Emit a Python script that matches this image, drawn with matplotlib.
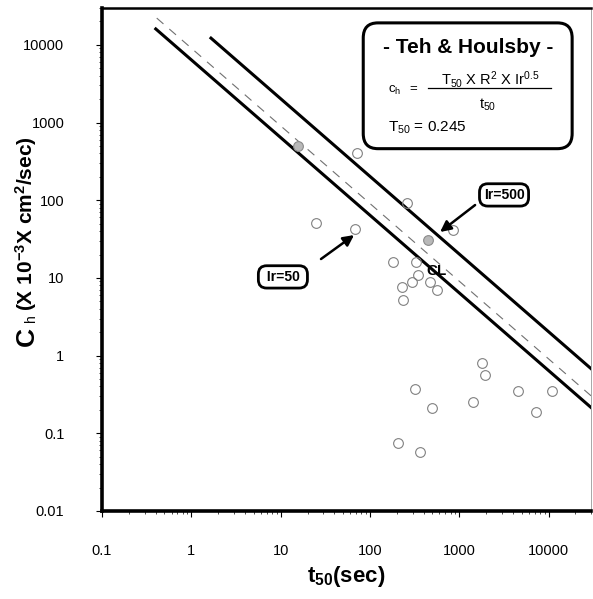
import matplotlib
matplotlib.use("Agg")
import matplotlib.pyplot as plt
import numpy as np
from matplotlib.patches import FancyBboxPatch

plt.rcParams['font.family'] = ['Liberation Sans', 'DejaVu Sans']
plt.rcParams['mathtext.default'] = 'regular'

# Teh & Houlsby parameters
T50 = 0.245
R_SQ = 3.70          # cm^2
ir_lines = [50, 100, 500]   # Ir=50, CL, Ir=500

# extent of each theoretical line along t50 (sec)
t50_start = [0.40, 0.41, 1.66]
t50_end = 30000

# measured dissipation results
t50_obs = [72, 260, 850, 25, 68, 181, 330, 345, 229, 296, 471, 560, 234,
           1800, 1950, 320, 495, 1430, 4500, 11000, 7200, 205, 365]
ch_obs = [400, 92, 41, 51, 43, 16, 16, 10.9, 7.6, 8.85, 8.85, 7.0, 5.2,
          0.8, 0.56, 0.37, 0.21, 0.25, 0.35, 0.35, 0.19, 0.075, 0.057]
t50_flag = [15.7, 450]
ch_flag = [500, 31]

xticks = [0.1, 1, 10, 100, 1000, 10000]
xtick_labels = ['0.1', '1', '10', '100', '1000', '10000']
yticks = [0.01, 0.1, 1, 10, 100, 1000, 10000]
ytick_labels = ['0.01', '0.1', '1', '10', '100', '1000', '10000']


def ch_theory(t50, ir):
    # result in 10^-3 cm^2/sec
    return 1000 * T50 * R_SQ * ir ** 0.5 / t50


fig = plt.figure(figsize=(5.93, 5.99), dpi=100)
ax = fig.add_axes([0.172, 0.147, 0.825, 0.840])
ax.set_xscale('log')
ax.set_yscale('log')
ax.set_xlim(0.1, 30000)
ax.set_ylim(0.01, 30000)

styles = [dict(color='black', lw=2.2),
          dict(color='#707070', lw=0.8, dashes=(8, 7)),
          dict(color='black', lw=2.2)]
for ir, t0, st in zip(ir_lines, t50_start, styles):
    t = np.array([t0, t50_end])
    ax.plot(t, ch_theory(t, ir), **st)

ax.plot(t50_obs, ch_obs, 'o', ms=7, mfc='none', mec='#808080', mew=0.8)
ax.plot(t50_flag, ch_flag, 'o', ms=7, mfc='#b8b8b8', mec='#8a8a8a', mew=0.8)

ax.text(430, 12.3, 'CL', fontsize=11, fontweight='bold', va='center', ha='left')

# Ir labels with arrows
box = dict(boxstyle='round,pad=0.3,rounding_size=0.6', fc='white', ec='black', lw=2)
arrow = dict(arrowstyle='-|>', color='black', lw=1.8, mutation_scale=16, shrinkA=0, shrinkB=0)
ax.text(3170, 117, 'Ir=500', fontsize=10, fontweight='bold', ha='center', va='center', bbox=box)
ax.annotate('', xy=(610, 39), xytext=(1503, 86.7), arrowprops=arrow)
ax.text(10.6, 10.3, ' Ir=50 ', fontsize=10, fontweight='bold', ha='center', va='center', bbox=box)
ax.annotate('', xy=(66.4, 35.6), xytext=(28.3, 17.5), arrowprops=arrow)

# formula box
ax.add_patch(FancyBboxPatch((0.534, 0.720), 0.427, 0.250, transform=ax.transAxes,
                            boxstyle='round,pad=0,rounding_size=0.03',
                            fc='white', ec='black', lw=2.2, zorder=5))
ax.text(0.748, 0.922, '- Teh & Houlsby -', transform=ax.transAxes, fontsize=15,
        fontweight='bold', ha='center', va='center', zorder=6)
ax.text(0.599, 0.836, 'c$_h$', transform=ax.transAxes, fontsize=9.5, ha='center', va='center', zorder=6)
ax.text(0.636, 0.838, '=', transform=ax.transAxes, fontsize=9.5, ha='center', va='center', zorder=6)
ax.text(0.793, 0.857, 'T$_{50}$ X R$^2$ X Ir$^{0.5}$', transform=ax.transAxes, fontsize=10.5,
        ha='center', va='center', zorder=6)
ax.plot([0.667, 0.918], [0.840, 0.840], transform=ax.transAxes, color='black', lw=0.9, zorder=6)
ax.text(0.789, 0.808, 't$_{50}$', transform=ax.transAxes, fontsize=10.5, ha='center', va='center', zorder=6)
ax.text(0.585, 0.762, 'T$_{50}$ = ' + str(T50), transform=ax.transAxes, fontsize=11,
        ha='left', va='center', zorder=6)

# axes styling
ax.set_xticks(xticks, xtick_labels)
ax.set_yticks(yticks, ytick_labels)
ax.tick_params(which='major', direction='out', length=4, width=0.8, labelsize=10.5)
ax.tick_params(axis='y', which='major', pad=23)
ax.tick_params(axis='x', which='major', pad=20)
ax.tick_params(which='minor', direction='out', length=2, width=0.5)
ax.xaxis.set_minor_formatter(matplotlib.ticker.NullFormatter())
ax.yaxis.set_minor_formatter(matplotlib.ticker.NullFormatter())
ax.spines['left'].set_linewidth(2.6)
ax.spines['bottom'].set_linewidth(2.6)
ax.spines['top'].set_linewidth(1.8)
ax.spines['right'].set_linewidth(0.6)
ax.spines['right'].set_color('#999999')

ax.set_xlabel('t$_{50}$(sec)', fontsize=16, fontweight='bold', labelpad=4)
# y label: large "C" followed by the subscript and unit text
fig.text(0.046, 0.422, 'C', rotation=90, fontsize=19, fontweight='bold',
         ha='center', va='bottom')
fig.text(0.052, 0.462, 'h', rotation=90, fontsize=10, ha='center', va='bottom')
fig.text(0.044, 0.480, '(X 10$^{-3}$X cm$^2$/sec)', rotation=90, fontsize=15,
         fontweight='bold', ha='center', va='bottom')

fig.savefig('out.png', dpi=100)
